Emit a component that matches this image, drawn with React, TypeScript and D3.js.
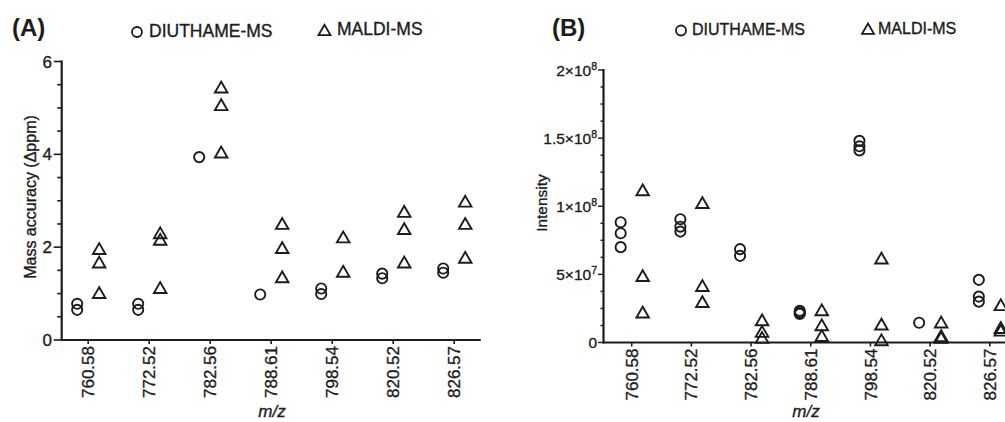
import React from "react";
import * as d3 from "d3";

const categories = ["760.58", "772.52", "782.56", "788.61", "798.54", "820.52", "826.57"];

// Panel A: mass accuracy (Δppm)
const accuracyDiuthame = [
  [0.78, 0.65],
  [0.78, 0.65],
  [3.94],
  [0.98],
  [1.11, 0.99],
  [1.43, 1.33],
  [1.54, 1.45],
];
const accuracyMaldi = [
  [1.97, 1.68, 1.02],
  [2.31, 2.17, 1.13],
  [5.45, 5.07, 4.05],
  [2.51, 1.99, 1.36],
  [2.22, 1.48],
  [2.77, 2.4, 1.68],
  [2.99, 2.51, 1.78],
];
const accuracyTicks = [0, 2, 4, 6];

// Panel B: intensity (in units of 1e7)
const intensityDiuthame = [
  [8.83, 8.02, 7.0],
  [9.05, 8.5, 8.14],
  [6.85, 6.36],
  [2.32, 2.2, 2.1],
  [14.8, 14.4, 14.1],
  [1.45],
  [4.6, 3.37, 3.0],
];
const intensityMaldi = [
  [11.2, 4.91, 2.23],
  [10.27, 4.18, 3.0],
  [1.66, 0.81, 0.37],
  [2.4, 1.3, 0.51],
  [6.19, 1.35, 0.2],
  [1.5, 0.5, 0.37],
  [2.77, 1.1, 0.9],
];
const intensityTicks = [
  { v: 0, base: "0", exp: "" },
  { v: 5e7, base: "5×10", exp: "7" },
  { v: 1e8, base: "1×10", exp: "8" },
  { v: 1.5e8, base: "1.5×10", exp: "8" },
  { v: 2e8, base: "2×10", exp: "8" },
];

const FONT = "'Liberation Sans', Arial, Helvetica, sans-serif";
const INK = "#1c1c1c";
const TS = { stroke: INK, strokeWidth: 0.35 } as const;

function Tri({ cx, cy, s = 12.5, sw = 1.9 }: { cx: number; cy: number; s?: number; sw?: number }) {
  const h = (s * Math.sqrt(3)) / 2;
  const p = d3.path();
  p.moveTo(cx, cy - h / 2);
  p.lineTo(cx - s / 2, cy + h / 2);
  p.lineTo(cx + s / 2, cy + h / 2);
  p.closePath();
  return <path d={p.toString()} fill="none" stroke={INK} strokeWidth={sw} strokeLinejoin="miter" />;
}

function Circ({ cx, cy, r = 5.1 }: { cx: number; cy: number; r?: number }) {
  return <circle cx={cx} cy={cy} r={r} fill="none" stroke={INK} strokeWidth={1.9} />;
}

function Legend({ cx, cy, tx, ty, tcx, tcy, t2x, t2y, fs }: any) {
  return (
    <g fontFamily={FONT} fontSize={fs} fill={INK}>
      <circle cx={cx} cy={cy} r={5} fill="none" stroke={INK} strokeWidth={1.8} />
      <text x={tx} y={ty} {...TS}>DIUTHAME-MS</text>
      <Tri cx={tcx} cy={tcy} s={12} sw={1.8} />
      <text x={t2x} y={t2y} {...TS}>MALDI-MS</text>
    </g>
  );
}

function PanelA() {
  const x0 = 61.7, x1 = 480.7, yBase = 340, yTop = 61.5;
  const x = d3.scalePoint<string>().domain(categories).range([x0, x1]).padding(0.434);
  const y = d3.scaleLinear().domain([0, 6]).range([yBase, yTop]);
  const minor = d3.range(0, 6.01, 0.5);
  const off = 11;
  return (
    <g>
      <text x={12} y={36} fontFamily={FONT} fontWeight="bold" fontSize={24} fill={INK}>(A)</text>
      <Legend cx={137} cy={32} tx={149} ty={36.5} tcx={324.5} tcy={30} t2x={337} t2y={34.5} fs={17.5} />
      <line x1={x0} x2={x0} y1={yTop - 1} y2={yBase + 1} stroke={INK} strokeWidth={2.2} />
      <line x1={x0 - 1} x2={x1} y1={yBase} y2={yBase} stroke={INK} strokeWidth={2.2} />
      {minor.map((v) => (
        <line key={v} x1={x0} x2={x0 - (accuracyTicks.includes(v) ? 8 : 4.5)} y1={y(v)} y2={y(v)} stroke={INK} strokeWidth={1.6} />
      ))}
      {accuracyTicks.map((v) => (
        <text key={v} x={52} y={y(v)} dy="0.36em" textAnchor="end" fontFamily={FONT} fontSize={17} fill={INK} {...TS}>{v}</text>
      ))}
      <text transform={`translate(36,197) rotate(-90)`} textAnchor="middle" fontFamily={FONT} fontSize={16} fill={INK} {...TS}>Mass accuracy (Δppm)</text>
      {categories.map((c) => (
        <g key={c}>
          <line x1={x(c)} x2={x(c)} y1={yBase} y2={yBase + 4} stroke={INK} strokeWidth={1.6} />
          <text transform={`translate(${x(c)},${yBase + 6}) rotate(-90)`} dy="0.36em" textAnchor="end" fontFamily={FONT} fontSize={17} fill={INK} {...TS}>{c}</text>
        </g>
      ))}
      <text x={272} y={417} textAnchor="middle" fontFamily={FONT} fontStyle="italic" fontSize={17} fill={INK} {...TS}>m/z</text>
      {categories.map((c, i) => (
        <g key={"p" + c}>
          {accuracyDiuthame[i].map((v, j) => <Circ key={j} cx={(x(c) as number) - off} cy={y(v)} />)}
          {accuracyMaldi[i].map((v, j) => <Tri key={j} cx={(x(c) as number) + off} cy={y(v)} />)}
        </g>
      ))}
    </g>
  );
}

function PanelB() {
  const x0 = 603.5, x1 = 1018, yBase = 342.5, yTop = 70;
  const x = d3.scalePoint<string>().domain(categories).range([x0, x1]).padding(0.472);
  const y = d3.scaleLinear().domain([0, 2e8]).range([yBase, yTop]);
  const minor = d3.range(0, 2e8 + 1, 1.25e7);
  const majors = intensityTicks.map((t) => t.v);
  const off = 11;
  return (
    <g>
      <text x={552} y={36} fontFamily={FONT} fontWeight="bold" fontSize={24} fill={INK}>(B)</text>
      <Legend cx={681} cy={30.5} tx={692} ty={35} tcx={868} tcy={28.7} t2x={878} t2y={34} fs={16} />
      <line x1={x0} x2={x0} y1={yTop - 1} y2={yBase + 1} stroke={INK} strokeWidth={2.2} />
      <line x1={x0 - 1} x2={x1} y1={yBase} y2={yBase} stroke={INK} strokeWidth={2.2} />
      {minor.map((v) => (
        <line key={v} x1={x0} x2={x0 - (majors.includes(v) ? 5.5 : 3)} y1={y(v)} y2={y(v)} stroke={INK} strokeWidth={1.4} />
      ))}
      {intensityTicks.map((t) => (
        <text key={t.v} x={597} y={y(t.v)} dy="0.36em" textAnchor="end" fontFamily={FONT} fontSize={15.5} fill={INK} {...TS}>
          {t.base}
          {t.exp ? <tspan dy={-5.5} fontSize={10.5}>{t.exp}</tspan> : null}
        </text>
      ))}
      <text transform={`translate(547,203) rotate(-90)`} textAnchor="middle" fontFamily={FONT} fontSize={15.5} fill={INK} {...TS}>Intensity</text>
      {categories.map((c) => (
        <g key={c}>
          <line x1={x(c)} x2={x(c)} y1={yBase} y2={yBase + 4} stroke={INK} strokeWidth={1.6} />
          <text transform={`translate(${x(c)},${yBase + 6}) rotate(-90)`} dy="0.36em" textAnchor="end" fontFamily={FONT} fontSize={17} fill={INK} {...TS}>{c}</text>
        </g>
      ))}
      <text x={806} y={417} textAnchor="middle" fontFamily={FONT} fontStyle="italic" fontSize={17} fill={INK} {...TS}>m/z</text>
      {categories.map((c, i) => (
        <g key={"p" + c}>
          {intensityDiuthame[i].map((v, j) => <Circ key={j} cx={(x(c) as number) - off} cy={y(v * 1e7)} />)}
          {intensityMaldi[i].map((v, j) => <Tri key={j} cx={(x(c) as number) + off} cy={y(v * 1e7)} />)}
        </g>
      ))}
    </g>
  );
}

export default function App() {
  return (
    <svg width={1005} height={422} style={{ position: "absolute", left: 0, top: 0, background: "#fff" }}>
      <rect width={1005} height={422} fill="#fff" />
      <PanelA />
      <PanelB />
    </svg>
  );
}
